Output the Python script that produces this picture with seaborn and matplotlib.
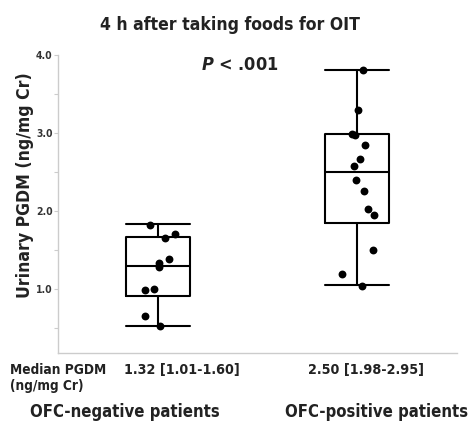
import numpy as np
import pandas as pd
import matplotlib
matplotlib.use("Agg")
import matplotlib.pyplot as plt
import seaborn as sns

# ---- data ----
groups = ["OFC-negative patients", "OFC-positive patients"]
neg_values = [1.82, 1.65, 1.70, 1.38, 1.33, 1.28, 0.99, 1.00, 0.65, 0.52]
neg_jitter = [-0.038, 0.034, 0.084, 0.055, 0.005, 0.005, -0.063, -0.017, -0.063, 0.012]
pos_values = [3.81, 3.30, 2.99, 2.98, 2.84, 2.67, 2.58, 2.40, 2.26, 2.03, 1.95, 1.50, 1.19, 1.04]
pos_jitter = [0.028, 0.003, -0.025, -0.012, 0.037, 0.015, -0.017, -0.005, 0.033, 0.055, 0.085, 0.077, -0.074, 0.025]
box_low = [0.53, 1.05]
box_q1 = [0.91, 1.85]
box_med = [1.30, 2.50]
box_q3 = [1.67, 2.99]
box_high = [1.83, 3.81]
median_labels = ["1.32 [1.01-1.60]", "2.50 [1.98-2.95]"]
ytick_major = [1.0, 2.0, 3.0, 4.0]
ytick_minor = [0.5, 1.5, 2.5, 3.5]

sns.set_style("white")
plt.rcParams["font.family"] = ["DejaVu Sans"]
plt.rcParams["font.stretch"] = "condensed"
plt.rcParams["mathtext.fontset"] = "custom"
plt.rcParams["mathtext.it"] = "DejaVu Sans:bold:italic"

TXT = "#222222"
fig = plt.figure(figsize=(4.75, 4.25), dpi=100)
ax = fig.add_axes([58 / 475, 1 - 353 / 425, (457 - 58) / 475, (353 - 55) / 425])

# boxes
stats = []
for i in range(len(groups)):
    stats.append(dict(med=box_med[i], q1=box_q1[i], q3=box_q3[i],
                      whislo=box_low[i], whishi=box_high[i], fliers=[]))
lw = 1.5
ax.bxp(stats, positions=list(range(len(groups))), widths=0.32, showfliers=False,
       boxprops=dict(color="black", linewidth=lw),
       whiskerprops=dict(color="black", linewidth=lw),
       capprops=dict(color="black", linewidth=lw),
       medianprops=dict(color="black", linewidth=lw),
       capwidths=0.32, manage_ticks=False)

# points
df = pd.DataFrame({
    "x": [0 + j for j in neg_jitter] + [1 + j for j in pos_jitter],
    "y": neg_values + pos_values,
})
sns.scatterplot(data=df, x="x", y="y", ax=ax, color="black", s=32,
                edgecolor="black", linewidth=0, zorder=5)

ax.set_xlim(-0.5, 1.5)
ax.set_ylim(0.18, 4.0)
ax.set_xticks([])
ax.set_yticks(ytick_major)
ax.set_yticks(ytick_minor, minor=True)
ax.set_yticklabels([f"{v:.1f}" for v in ytick_major], fontsize=7.5, fontweight="bold", color="#333333")
ax.tick_params(axis="y", which="both", length=3, width=0.8, color="#cccccc", pad=1, left=True)
ax.set_xlabel("")
ax.set_ylabel("")
for side in ["top", "right"]:
    ax.spines[side].set_visible(False)
for side in ["left", "bottom"]:
    ax.spines[side].set_color("#cccccc")
    ax.spines[side].set_linewidth(1.0)

fig.text(25 / 475, 1 - 185 / 425, "Urinary PGDM (ng/mg Cr)", rotation=90, ha="center", va="center",
         fontsize=12.6, fontweight="bold", color=TXT)
fig.text(230 / 475, 1 - 25 / 425, "4 h after taking foods for OIT", ha="center", va="center",
         fontsize=12.6, fontweight="bold", color=TXT)
fig.text(240 / 475, 1 - 65 / 425, r"$P$ < .001", ha="center", va="center",
         fontsize=13, fontweight="bold", color=TXT)

fig.text(10 / 475, 1 - 370 / 425, "Median PGDM", ha="left", va="center",
         fontsize=9.8, fontweight="bold", color=TXT)
fig.text(10 / 475, 1 - 386 / 425, "(ng/mg Cr)", ha="left", va="center",
         fontsize=9.8, fontweight="bold", color=TXT)
fig.text(182 / 475, 1 - 370 / 425, median_labels[0], ha="center", va="center",
         fontsize=10.3, fontweight="bold", color=TXT)
fig.text(365.5 / 475, 1 - 370 / 425, median_labels[1], ha="center", va="center",
         fontsize=10.3, fontweight="bold", color=TXT)
fig.text(124.5 / 475, 1 - 417 / 425, groups[0], ha="center", va="baseline",
         fontsize=12, fontweight="bold", color=TXT)
fig.text(377 / 475, 1 - 417 / 425, groups[1], ha="center", va="baseline",
         fontsize=12, fontweight="bold", color=TXT)

fig.savefig("out.png", dpi=100)
